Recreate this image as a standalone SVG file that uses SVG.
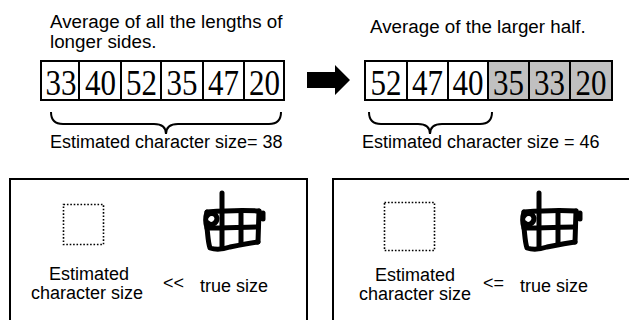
<svg xmlns="http://www.w3.org/2000/svg" width="629" height="320" viewBox="0 0 629 320">
<style>
.t{font-family:"Liberation Sans",Arial,sans-serif;font-size:18px;fill:#000}
.h{font-size:18.8px}
.n{font-family:"Liberation Serif","Times New Roman",serif;font-size:35px;fill:#000}
.cell{fill:#fff;stroke:#000;stroke-width:2}
.g{fill:#c0c0c0}
.box{fill:#fff;stroke:#000;stroke-width:2}
.dot{fill:none;stroke:#000;stroke-width:1.6;stroke-dasharray:1.6 1.8}
.br{fill:none;stroke:#000;stroke-width:2}
.hw{fill:none;stroke:#000;stroke-width:5;stroke-linecap:round;stroke-linejoin:round}
</style>
<defs>
<g id="char">
<path class="hw" d="M222,193 L222,247"/>
<path class="hw" d="M207,212 C220,211 245,210 259,211"/>
<path class="hw" d="M263,213 L263,219"/>
<path class="hw" d="M259,211 L258,242"/>
<path class="hw" d="M207,212 C205,218 205,222 207,228 C208,236 208,242 210,248 C216,250 224,249 230,247 C240,245 250,243 258,242"/>
<path class="hw" d="M207,228 C225,228 245,227 258,227"/>
<path class="hw" d="M241,211 L241,244"/>
<path class="hw" d="M207,216 C210,212 216,213 217,218 C217,224 211,226 208,223"/>
</g>
</defs>

<g id="label-left">
<text class="t h" x="50" y="28">Average of all the lengths of</text>
<text class="t h" x="50" y="48">longer sides.</text>
</g>
<g id="label-right">
<text class="t h" x="370" y="33">Average of the larger half.</text>
</g>

<g id="array-left">
<rect class="cell" x="41" y="61" width="243" height="39"/>
<path d="M79,61V100M121,61V100M161,61V100M203,61V100M244,61V100" stroke="#000" stroke-width="2"/>
<g text-anchor="middle">
<text class="n" x="61" y="95" textLength="31" lengthAdjust="spacingAndGlyphs">33</text>
<text class="n" x="100.5" y="95" textLength="31" lengthAdjust="spacingAndGlyphs">40</text>
<text class="n" x="141.5" y="95" textLength="31" lengthAdjust="spacingAndGlyphs">52</text>
<text class="n" x="182" y="95" textLength="31" lengthAdjust="spacingAndGlyphs">35</text>
<text class="n" x="223.5" y="95" textLength="31" lengthAdjust="spacingAndGlyphs">47</text>
<text class="n" x="264.5" y="95" textLength="31" lengthAdjust="spacingAndGlyphs">20</text>
</g>
</g>

<g id="array-right">
<rect class="cell" x="365" y="61" width="247" height="39"/>
<rect class="g" x="488" y="61" width="124" height="39"/>
<rect x="365" y="61" width="247" height="39" fill="none" stroke="#000" stroke-width="2"/>
<path d="M407,61V100M448,61V100M488,61V100M529,61V100M570,61V100" stroke="#000" stroke-width="2"/>
<g text-anchor="middle">
<text class="n" x="386" y="95" textLength="31" lengthAdjust="spacingAndGlyphs">52</text>
<text class="n" x="427.5" y="95" textLength="31" lengthAdjust="spacingAndGlyphs">47</text>
<text class="n" x="468" y="95" textLength="31" lengthAdjust="spacingAndGlyphs">40</text>
<text class="n" x="508.5" y="95" textLength="31" lengthAdjust="spacingAndGlyphs">35</text>
<text class="n" x="549.5" y="95" textLength="31" lengthAdjust="spacingAndGlyphs">33</text>
<text class="n" x="591" y="95" textLength="31" lengthAdjust="spacingAndGlyphs">20</text>
</g>
</g>

<g id="connectors">
<path d="M307,72 H335 V65 L350,80 L335,95 V88 H307 Z" fill="#000"/>
<path class="br" d="M51,112 Q51,124 63,124 H154 Q166,124 166,134 Q166,124 178,124 H269 Q281,124 281,112"/>
<path class="br" d="M369,112 Q369,124 381,124 H418 Q430,124 430,134 Q430,124 442,124 H480 Q492,124 492,112"/>
</g>

<g id="result-left">
<text class="t" x="50" y="148">Estimated character size= 38</text>
</g>
<g id="result-right">
<text class="t" x="362" y="148">Estimated character size = 46</text>
</g>

<g id="panel-left">
<rect class="box" x="10" y="179" width="297" height="150"/>
<rect class="dot" x="63.5" y="204.5" width="40" height="40"/>
<use href="#char"/>
<text class="t" x="89" y="280" text-anchor="middle">Estimated</text>
<text class="t" x="87" y="299" text-anchor="middle">character size</text>
<text class="t" x="163" y="289">&lt;&lt;</text>
<text class="t" x="200" y="292">true size</text>
</g>

<g id="panel-right">
<rect class="box" x="333" y="179" width="310" height="150"/>
<rect class="dot" x="384.5" y="202.5" width="50" height="48"/>
<use href="#char" transform="translate(317,0)"/>
<text class="t" x="415" y="281" text-anchor="middle">Estimated</text>
<text class="t" x="415" y="300" text-anchor="middle">character size</text>
<text class="t" x="483" y="289">&lt;=</text>
<text class="t" x="520" y="292">true size</text>
</g>
</svg>
